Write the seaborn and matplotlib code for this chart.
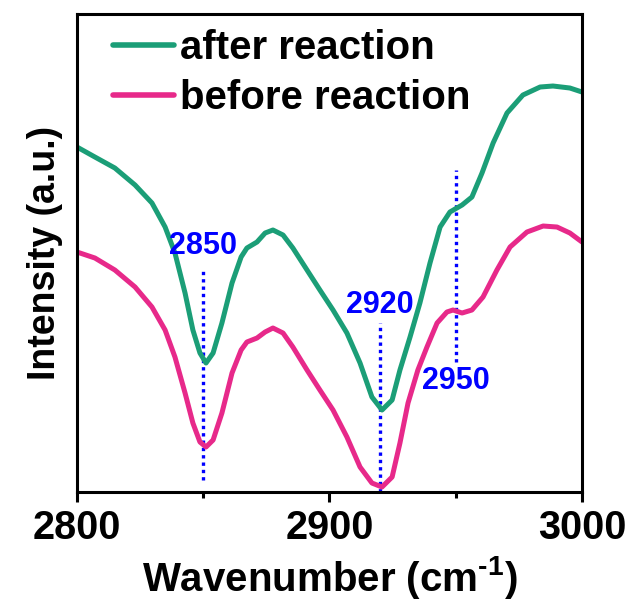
import numpy as np
import pandas as pd
import matplotlib
matplotlib.use("Agg")
import matplotlib.pyplot as plt
import seaborn as sns

# ---- data ----
wn_after = [2800, 2807.1, 2815.0, 2823.0, 2829.7, 2834.9, 2838.8, 2842.8, 2845.9, 2848.7,
            2851.1, 2853.9, 2857.4, 2861.4, 2865.0, 2867.3, 2871.3, 2874.5, 2877.6, 2881.6,
            2885.5, 2891.1, 2896.2, 2901.4, 2906.9, 2912.1, 2916.8, 2920.8, 2924.8, 2927.9,
            2931.9, 2935.8, 2939.8, 2943.8, 2947.7, 2952.5, 2956.4, 2960.4, 2964.8, 2970.3,
            2976.6, 2983.4, 2988.5, 2995.2, 3000]
int_after = [345, 335, 324, 307, 289, 265, 239, 199, 162, 139,
             129, 139, 169, 209, 235, 244, 250, 259, 262, 257,
             244, 222, 202, 182, 159, 129, 95, 82, 92, 122,
             155, 189, 229, 265, 280, 287, 295, 319, 349, 379,
             397, 405, 406, 404, 400]

wn_before = [2800, 2807.1, 2815.0, 2823.0, 2829.7, 2834.9, 2838.8, 2842.8, 2845.9, 2848.7,
             2851.1, 2853.9, 2857.4, 2861.4, 2865.0, 2867.3, 2871.3, 2874.5, 2877.6, 2881.6,
             2885.5, 2891.1, 2896.2, 2901.4, 2906.9, 2912.1, 2916.8, 2920.8, 2924.8, 2927.9,
             2931.1, 2935.0, 2938.6, 2942.6, 2946.5, 2948.9, 2952.5, 2956.4, 2960.8, 2966.3,
             2971.5, 2978.2, 2984.6, 2990.1, 2995.2, 3000]
int_before = [240, 234, 222, 205, 185, 162, 135, 99, 69, 50,
              45, 52, 79, 119, 142, 150, 154, 160, 164, 159,
              145, 122, 102, 82, 55, 25, 9, 5, 15, 49,
              89, 122, 145, 169, 180, 182, 179, 182, 195, 222,
              245, 260, 266, 265, 259, 250]

series_names = ["after reaction", "before reaction"]
colors = ["#1B9E77", "#E7298A"]

peak_pos = [2850, 2920, 2950]
peak_labels = ["2850", "2920", "2950"]
peak_line_lo = [12, 0, 130]
peak_line_hi = [222, 169, 322]
peak_text_y = [246, 187, 111]

x_ticks = [2800, 2900, 3000]
x_minor = [2850, 2950]

df = pd.concat([
    pd.DataFrame({"wn": wn_after, "I": int_after, "s": series_names[0]}),
    pd.DataFrame({"wn": wn_before, "I": int_before, "s": series_names[1]}),
])

sns.set_style("ticks")
plt.rcParams["font.family"] = ["Liberation Sans", "DejaVu Sans"]
plt.rcParams["font.weight"] = "bold"
plt.rcParams["text.color"] = "black"
plt.rcParams["axes.labelcolor"] = "black"
plt.rcParams["axes.edgecolor"] = "black"
plt.rcParams["xtick.color"] = "black"
plt.rcParams["mathtext.fontset"] = "custom"
plt.rcParams["mathtext.rm"] = "Liberation Sans:bold"
plt.rcParams["mathtext.bf"] = "Liberation Sans:bold"
plt.rcParams["mathtext.default"] = "rm"

fig = plt.figure(figsize=(6.32, 6.04), dpi=100)
ax = fig.add_axes([0.1218, 0.1854, 0.7991, 0.7914])

sns.lineplot(data=df, x="wn", y="I", hue="s", hue_order=series_names,
             palette=dict(zip(series_names, colors)), linewidth=3.6,
             sort=False, ax=ax, legend=True)
for ln in ax.get_lines():
    ln.set_solid_joinstyle("round")
    ln.set_solid_capstyle("round")

for p, lab, lo, hi, ty in zip(peak_pos, peak_labels, peak_line_lo, peak_line_hi, peak_text_y):
    ax.vlines(p, lo, hi, colors="blue", linestyles=(0, (1, 1.2)), linewidth=2.4, zorder=1)
    ax.text(p, ty, lab, color="blue", fontsize=22, fontweight="bold",
            ha="center", va="center")

ax.set_xlim(2800, 3000)
ax.set_ylim(0, 478)
ax.set_xticks(x_ticks)
ax.set_xticks(x_minor, minor=True)
ax.set_yticks([])
ax.tick_params(axis="x", which="major", length=7, width=2.2, labelsize=28.5, pad=5)
ax.tick_params(axis="x", which="minor", length=4, width=2.2)
for lbl in ax.get_xticklabels():
    lbl.set_fontweight("bold")
for sp in ax.spines.values():
    sp.set_visible(True)
    sp.set_linewidth(2.2)
    sp.set_color("black")

ax.set_xlabel("Wavenumber (cm$^{\\text{-1}}$)", fontsize=29, fontweight="bold", labelpad=5)
ax.set_ylabel("Intensity (a.u.)", fontsize=27, fontweight="bold", labelpad=10)

leg = ax.legend(loc="upper left", bbox_to_anchor=(0.04, 1.003), frameon=False,
                prop={"size": 29, "weight": "bold"}, handlelength=1.5,
                handletextpad=0.15, labelspacing=0.3, borderaxespad=0)
for h in leg.get_lines():
    h.set_linewidth(4)

fig.savefig("out.png", dpi=100)
